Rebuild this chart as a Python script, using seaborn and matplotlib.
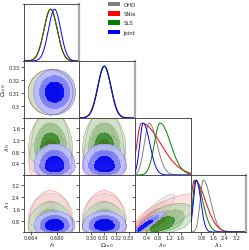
import numpy as np
import pandas as pd
import seaborn as sns
import matplotlib.pyplot as plt
from matplotlib.patches import Patch
from matplotlib.colors import to_rgb

sns.set_style('ticks')
plt.rcParams['font.family'] = ['DejaVu Sans']
plt.rcParams['mathtext.fontset'] = 'dejavusans'

datasets = ['OHD', 'SNIa', 'SLS', 'Joint']
colors = ['#808080', '#ff0000', '#008000', '#0000ff']

param_labels = [r'$h$', r'$\Omega_{m0}$', r'$\lambda_0$', r'$\lambda_1$']
param_ranges = [(0.6595, 0.6932), (0.2905, 0.3350), (0.0, 1.95), (0.05, 3.90)]
param_ticks = [[0.664, 0.680], [0.30, 0.31, 0.32, 0.33], [0.4, 0.8, 1.2, 1.6], [0.8, 1.6, 2.4, 3.2]]
xtick_labels = [['0.664', '0.680'], ['0.30', '0.31', '0.32', '0.33'],
                ['0.4', '0.8', '1.2', '1.6'], ['0.8', '1.6', '2.4', '3.2']]
ytick_labels = [None, ['0.3', '0.31', '0.32', '0.33'],
                ['0.4', '0.8', '1.2', '1.6'], ['0.8', '1.6', '2.4', '3.2']]

# posterior peak and left / right widths (OHD, SNIa, SLS, Joint)
h_peak = [0.6759, 0.6759, 0.6759, 0.6783]
h_sig_lo = [0.0040, 0.0040, 0.0040, 0.0037]
h_sig_hi = [0.0040, 0.0040, 0.0040, 0.0037]
om_peak = [0.3105, 0.3105, 0.3105, 0.3107]
om_sig_lo = [0.0052, 0.0052, 0.0052, 0.0052]
om_sig_hi = [0.0052, 0.0052, 0.0052, 0.0052]
lam0_peak = [0.50, 0.23, 0.88, 0.29]
lam0_sig_lo = [0.17, 0.16, 0.20, 0.12]
lam0_sig_hi = [0.27, 0.67, 0.37, 0.23]
lam1_peak = [0.93, 0.32, 0.38, 0.45]
lam1_sig_lo = [0.22, 0.25, 0.18, 0.20]
lam1_sig_hi = [0.50, 0.75, 0.50, 0.30]

# correlation between lambda0 and lambda1 seen in the 2D panel
rho_lam01 = [0.90, 0.85, 0.60, 0.95]

contour_mass = [0.68, 0.95, 0.997]
fill_alpha = [0.55, 0.45, 0.7, 0.9]

peaks = [h_peak, om_peak, lam0_peak, lam1_peak]
sig_lo = [h_sig_lo, om_sig_lo, lam0_sig_lo, lam1_sig_lo]
sig_hi = [h_sig_hi, om_sig_hi, lam0_sig_hi, lam1_sig_hi]

z_tab = np.linspace(-9, 9, 6001)
Phi_tab = np.cumsum(np.exp(-0.5 * z_tab ** 2))
Phi_tab /= Phi_tab[-1]


def marginal(p, k, x):
    m, lo, hi = peaks[p][k], sig_lo[p][k], sig_hi[p][k]
    s = np.where(x < m, lo, hi)
    return np.exp(-0.5 * ((x - m) / s) ** 2)


def gauss_score(p, k, x):
    # split-normal cdf mapped to a standard normal score
    m, lo, hi = peaks[p][k], sig_lo[p][k], sig_hi[p][k]
    left = 2 * lo / (lo + hi) * np.interp((x - m) / lo, z_tab, Phi_tab)
    right = (lo + hi * (2 * np.interp((x - m) / hi, z_tab, Phi_tab) - 1)) / (lo + hi)
    cdf = np.where(x < m, left, right)
    return np.interp(np.clip(cdf, 1e-9, 1 - 1e-9), Phi_tab, z_tab)


def corr(i, j, k):
    if {i, j} == {2, 3}:
        return rho_lam01[k]
    return 0.0


def level_colors(col, a):
    # inner level in full colour, each outer level paler
    c = np.array(to_rgb(col))
    mid = c * 0.5 + 0.5
    out = mid * 0.5 + 0.5
    return [tuple(out) + (a,), tuple(mid) + (a,), tuple(c) + (a,)]


n = 160
grids = [np.linspace(a, b, n) for a, b in param_ranges]

W, H = 249.0, 251.0
col_left = [23.5, 79.2, 134.9, 190.6]
row_top = [5.0, 62.0, 119.0, 176.0]
pw, ph = 55.7, 57.0
ylabel_x = [None, -0.27, -0.21, -0.21]

fig = plt.figure(figsize=(2.49, 2.51), dpi=100)


def add_panel(r, c):
    return fig.add_axes([col_left[c] / W, 1 - (row_top[r] + ph) / H, pw / W, ph / H])


def style(ax):
    ax.tick_params(direction='out', length=2, width=0.5, labelsize=3.6, pad=0.5, colors='#222222')
    for s in ax.spines.values():
        s.set_linewidth(0.6)
        s.set_color('#333333')


for r in range(4):
    for c in range(r + 1):
        ax = add_panel(r, c)
        style(ax)
        ax.set_xlim(param_ranges[c])
        ax.set_xticks(param_ticks[c])
        if r == 3:
            ax.set_xticklabels(xtick_labels[c])
        else:
            ax.set_xticklabels([])

        if r == c:
            x = grids[c]
            frames = []
            for k, d in enumerate(datasets):
                f = marginal(c, k, x)
                frames.append(pd.DataFrame({'x': x, 'p': f / f.max(), 'dataset': d}))
            df = pd.concat(frames, ignore_index=True)
            sns.lineplot(data=df, x='x', y='p', hue='dataset', hue_order=datasets,
                         palette=colors, estimator=None, sort=False, legend=False,
                         lw=0.7, ax=ax)
            ax.set_ylim(0, 1.1)
            ax.set_yticks([])
            ax.set_ylabel('')
            ax.set_xlabel('')
            if c != 2:
                ax.spines['right'].set_color('#aaaaaa')
                ax.spines['right'].set_linewidth(1.6)
        else:
            x, y = grids[c], grids[r]
            X, Y = np.meshgrid(x, y)
            for k, d in enumerate(datasets):
                fx, fy = marginal(c, k, x), marginal(r, k, y)
                ux, uy = gauss_score(c, k, x), gauss_score(r, k, y)
                rho = corr(c, r, k)
                U, V = np.meshgrid(ux, uy)
                cop = np.exp(-(rho ** 2 * (U ** 2 + V ** 2) - 2 * rho * U * V) / (2 * (1 - rho ** 2)))
                P = fy[:, None] * fx[None, :] * cop
                flat = np.sort(P.ravel())[::-1]
                cum = np.cumsum(flat) / flat.sum()
                lev = [flat[np.searchsorted(cum, m)] for m in contour_mass]
                levels = [lev[2], lev[1], lev[0], P.max() * 1.01]
                ax.contourf(X, Y, P, levels=levels, colors=level_colors(colors[k], fill_alpha[k]))
                ax.contour(X, Y, P, levels=levels[:1], colors=[colors[k]], linewidths=0.3, alpha=0.4)
            ax.set_ylim(param_ranges[r])
            ax.set_yticks(param_ticks[r])
            if c == 0:
                ax.set_yticklabels(ytick_labels[r])
                ax.set_ylabel(param_labels[r], fontsize=4.6)
                ax.yaxis.set_label_coords(ylabel_x[r], 0.5)
            else:
                ax.set_yticklabels([])

        if r == 3:
            ax.set_xlabel(param_labels[c], fontsize=4.6)
            ax.xaxis.set_label_coords(0.5, -0.14)

handles = [Patch(facecolor=col, edgecolor='none', label=d) for d, col in zip(datasets, colors)]
fig.legend(handles=handles, loc='upper left', bbox_to_anchor=(108 / W, 1 - 3 / H),
           frameon=False, fontsize=3.9, handlelength=2.3, handleheight=0.9,
           labelspacing=0.75, handletextpad=0.6, borderaxespad=0, borderpad=0)

fig.savefig('out.png', dpi=100)
